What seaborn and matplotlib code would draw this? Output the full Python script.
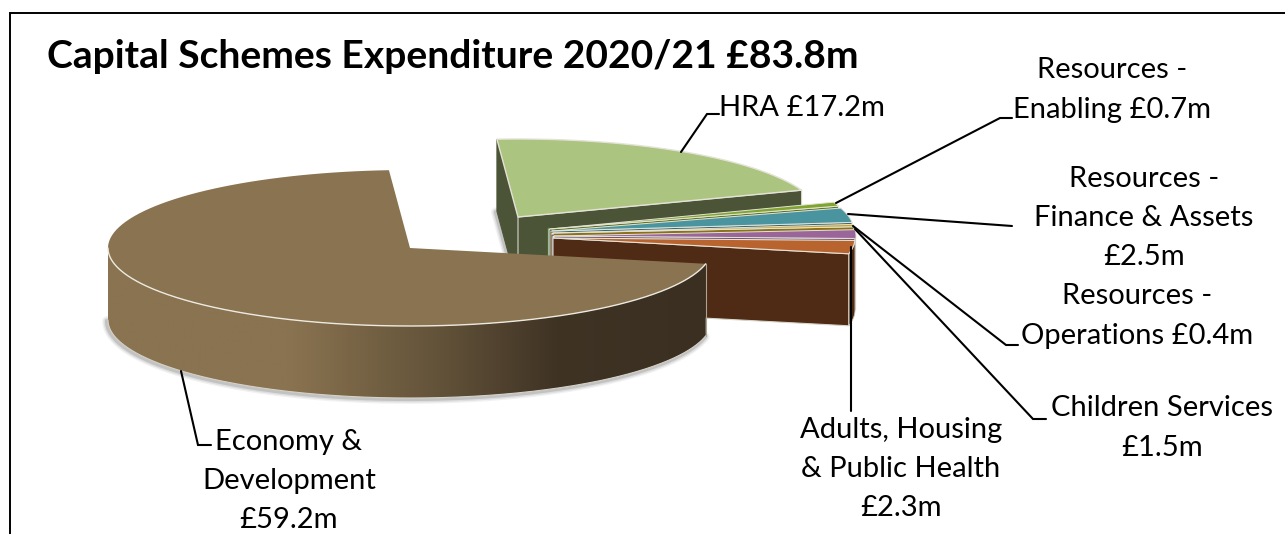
import numpy as np
import matplotlib
matplotlib.use("Agg")
import matplotlib.pyplot as plt
from matplotlib.colors import LinearSegmentedColormap
from matplotlib.patches import Polygon
import seaborn as sns

# Capital spend by service area, in £m, in the order the slices run clockwise
services = ["HRA", "Resources - Enabling", "Resources - Finance & Assets",
            "Resources - Operations", "Children Services",
            "Adults, Housing & Public Health", "Economy & Development"]
spend = [17.2, 0.7, 2.5, 0.4, 1.5, 2.3, 59.2]
slice_labels = ["HRA £17.2m", "Resources -\nEnabling £0.7m",
                "Resources -\nFinance & Assets\n£2.5m",
                "Resources -\nOperations £0.4m", "Children Services\n£1.5m",
                "Adults, Housing\n& Public Health\n£2.3m",
                "Economy &\nDevelopment\n£59.2m"]
chart_title = "Capital Schemes Expenditure 2020/21 £83.8m"

top_colours = ["#ABC47F", "#7FA52F", "#4A94A0", "#C9A227", "#9A6598", "#B9642F", "#8A7350"]
wall_colours = ["#4B5437", "#5B7424", "#33666F", "#8A7018", "#66436A", "#4F2A14", "#3A2F21"]

# Projection of the tilted pie: ellipse radii, wall depth, angle of the first slice
RX, RY, DEPTH = 302.0, 78.0, 72.0
START_ANGLE = 94.0
# Where each slice's tip sits once the slices have been pulled apart
TIPS = [(518, 217), (550, 229), (552, 231), (553, 233), (554, 236), (553, 238), (410, 248)]
# Label centres and leader routes: from the slice, through the elbow, to the text
LABEL_CENTRES = [(802, 108), (1112, 90), (1144, 218), (1137, 316), (1162, 428), (901, 469), (289, 481)]
LEADERS = [[(681, 152), (707, 114), (719, 114)],
           [(836, 203), (1000, 118), (1012, 118)],
           [(848, 214), (1012, 226)],
           [(853, 226), (1006, 345), (1018, 345)],
           [(855, 229), (1033, 419), (1046, 419)],
           [(851, 247), (851, 411)],
           [(181, 371), (198, 445), (211, 445)]]

sns.set_theme(style="white")
plt.rcParams["font.family"] = ["Lato", "DejaVu Sans"]
palette = sns.color_palette(top_colours)

fig = plt.figure(figsize=(12.85, 5.34), dpi=100, facecolor="white")
ax = fig.add_axes([0, 0, 1, 1])
ax.axis("off")

# Clockwise angle ranges from the spend values
fractions = np.array(spend) / np.sum(spend)
ends = START_ANGLE - 360 * np.cumsum(fractions)
starts = np.r_[START_ANGLE, ends[:-1]]


def rim(tip, a0, a1, n=120):
    t = np.radians(np.linspace(a0, a1, n))
    return tip[0] + RX * np.cos(t), tip[1] - RY * np.sin(t)


def top_face(i, edge="#E4E2D6", lw=1.0, z=3):
    x, y = rim(TIPS[i], starts[i], ends[i])
    ax.fill(np.r_[TIPS[i][0], x], np.r_[TIPS[i][1], y], facecolor=palette[i],
            edgecolor=edge, linewidth=lw, zorder=z, joinstyle="round")
    return x, y


def cut_face(i, angle, colour=None, edge="#D8D6CA", z=2):
    x, y = rim(TIPS[i], angle, angle, 1)
    tx, ty = TIPS[i]
    ax.fill([tx, x[0], x[0], tx], [ty, y[0], y[0] + DEPTH, ty + DEPTH],
            facecolor=colour or wall_colours[i], edgecolor=edge, linewidth=0.8, zorder=z)


def soft_shadow(x, y, z=1):
    for w, a in [(7, 0.08), (5, 0.12), (3, 0.2)]:
        ax.plot(x - 1, y + 1, color="#555555", alpha=a, lw=w, zorder=z, solid_capstyle="round")


# HRA: thrown well clear of the others, both cut faces in view
hx, hy = rim(TIPS[0], starts[0], ends[0])
soft_shadow(np.array([hx[0], TIPS[0][0]]), np.array([hy[0] + DEPTH, TIPS[0][1] + DEPTH]))
cut_face(0, starts[0], edge=wall_colours[0], z=2)
cut_face(0, ends[0], z=2)
top_face(0, z=3)

# The thin slices, back to front, then the Adults slice with its dark front face
for i in range(1, 5):
    tx, ty = TIPS[i]
    ax.fill([tx - 2, tx + 3, tx + 3, tx - 2], [ty - 1, ty, ty + 40, ty + 40],
            facecolor="#F4F4EC", edgecolor=wall_colours[i], linewidth=0.7, zorder=4 + i)
    cut_face(i, ends[i], edge="#F2F2EA", z=4 + i)
    top_face(i, lw=0.7, z=4 + i)

adults = 5
rx_a, ry_a = rim(TIPS[adults], ends[adults], 0, 20)
ax.fill(np.r_[rx_a, rx_a[::-1]], np.r_[ry_a, ry_a[::-1] + DEPTH],
        facecolor=wall_colours[adults], edgecolor="#C9C6BA", linewidth=0.6, zorder=10)
cut_face(adults, ends[adults], z=10)
top_face(adults, lw=0.8, z=11)

# Economy & Development: curved wall with a smooth left-to-right shade
ex, ey = rim(TIPS[6], -180, starts[6], 400)
soft_shadow(ex, ey + DEPTH, z=11)
wall_shade = LinearSegmentedColormap.from_list(
    "wall", [(0, "#8A7350"), (0.30, "#8A7350"), (0.55, "#63533A"), (0.75, "#3F3324"), (1, "#3A2F21")])
wall_outline = Polygon(np.c_[np.r_[ex, ex[::-1]], np.r_[ey, ey[::-1] + DEPTH]],
                       closed=True, transform=ax.transData, facecolor="none", edgecolor="none")
ax.add_patch(wall_outline)
gradient = ax.imshow(np.linspace(0, 1, 512)[None, :], cmap=wall_shade, aspect="auto",
                     extent=[ex.min(), ex.max(), ey.max() + DEPTH, ey.min()], zorder=12)
gradient.set_clip_path(wall_outline)
ax.plot([ex[-1], ex[-1]], [ey[-1], ey[-1] + DEPTH], color="#A9A493", lw=0.8, zorder=13)
ax.plot(ex, ey + DEPTH, color="#D5D2C8", lw=0.8, zorder=13)
top_face(6, edge="none", lw=0, z=14)
ax.plot(ex, ey, color="#ECEAE0", lw=1.0, zorder=15)

# Leader lines and data labels
for route, (cx, cy), text in zip(LEADERS, LABEL_CENTRES, slice_labels):
    ax.plot(*zip(*route), color="black", lw=1.5, zorder=20, solid_joinstyle="miter")
    ax.text(cx, cy, text, ha="center", va="center", fontsize=21, color="black",
            linespacing=1.62, zorder=21)

ax.text(47, 57, chart_title, ha="left", va="center", fontsize=28.1, fontweight="bold",
        color="black", zorder=21)

# Chart frame: it runs off the right and bottom of the canvas
ax.plot([9.5, 9.5, 1285], [534, 12.5, 12.5], color="black", lw=1.4, zorder=22,
        solid_joinstyle="miter")

ax.set_xlim(0, 1285)
ax.set_ylim(534, 0)

fig.savefig("out.png", dpi=100, facecolor="white")
